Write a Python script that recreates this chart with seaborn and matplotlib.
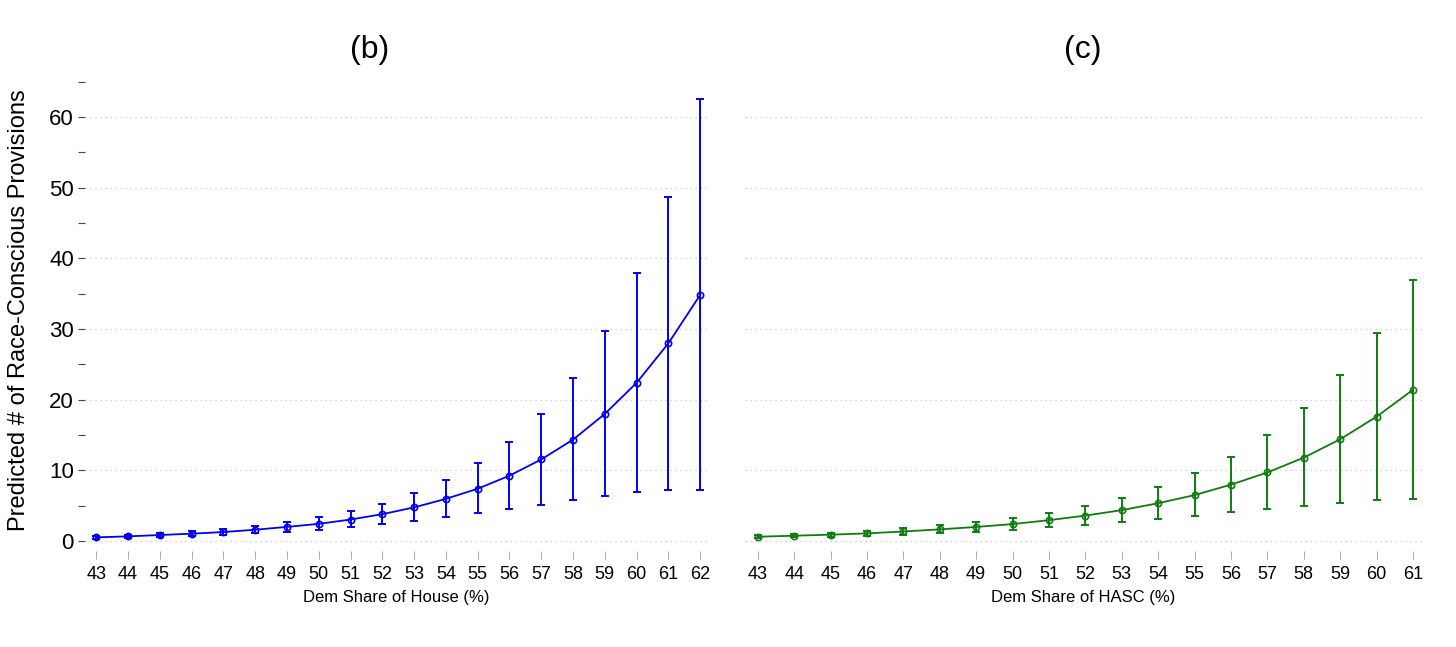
import seaborn as sns
import matplotlib
matplotlib.use("Agg")
import matplotlib.pyplot as plt
import pandas as pd

# panel (b): Dem share of House
house_share = list(range(43, 63))
house_pred = [0.52, 0.66, 0.85, 1.04, 1.27, 1.6, 2.0, 2.43, 3.04, 3.8,
              4.76, 5.97, 7.4, 9.25, 11.55, 14.35, 18.0, 22.4, 28.0, 34.85]
house_lo = [0.3, 0.45, 0.6, 0.72, 0.85, 1.1, 1.3, 1.6, 1.95, 2.38,
            2.85, 3.37, 3.9, 4.5, 5.15, 5.8, 6.4, 6.9, 7.2, 7.2]
house_hi = [0.75, 0.9, 1.1, 1.37, 1.75, 2.1, 2.7, 3.35, 4.2, 5.25,
            6.75, 8.6, 11.0, 14.05, 18.0, 23.1, 29.7, 38.0, 48.75, 62.6]

# panel (c): Dem share of HASC
hasc_share = list(range(43, 62))
hasc_pred = [0.61, 0.75, 0.9, 1.08, 1.35, 1.65, 1.99, 2.4, 2.95, 3.6,
             4.37, 5.35, 6.5, 7.98, 9.7, 11.8, 14.4, 17.6, 21.4]
hasc_lo = [0.4, 0.52, 0.63, 0.72, 0.9, 1.13, 1.27, 1.56, 1.95, 2.33,
           2.7, 3.17, 3.6, 4.06, 4.5, 4.95, 5.4, 5.75, 6.0]
hasc_hi = [0.82, 0.98, 1.2, 1.46, 1.84, 2.2, 2.74, 3.3, 3.98, 4.9,
           6.08, 7.6, 9.6, 11.9, 15.0, 18.8, 23.5, 29.5, 36.9]

sns.set_style("white")
plt.rcParams['font.family'] = ['Liberation Sans', 'DejaVu Sans']
plt.rcParams['text.color'] = 'black'
plt.rcParams['axes.labelcolor'] = 'black'
plt.rcParams['xtick.labelcolor'] = 'black'
plt.rcParams['ytick.labelcolor'] = 'black'

fig = plt.figure(figsize=(14.56, 6.47), dpi=100)
ax1 = fig.add_axes([0.0584, 0.1485, 0.428, 0.7274])
ax2 = fig.add_axes([0.5117, 0.1485, 0.465, 0.7274])


def draw_panel(ax, xs, pred, lo, hi, color, xlabel):
    df = pd.DataFrame({"x": xs, "y": pred})
    yerr = [[p - l for p, l in zip(pred, lo)], [h - p for p, h in zip(pred, hi)]]
    ax.errorbar(xs, pred, yerr=yerr, fmt='none', ecolor=color,
                elinewidth=1.4, capsize=2.6, capthick=1.4, zorder=2)
    sns.lineplot(data=df, x="x", y="y", ax=ax, color=color, linewidth=1.3,
                 marker='o', markersize=4.5, markerfacecolor='none',
                 markeredgecolor=color, markeredgewidth=1.2, zorder=3)
    ax.set_ylim(-1.4, 65.2)
    ax.set_xlim(xs[0] - 0.35, xs[-1] + 0.25)
    ax.set_xticks(xs)
    ax.set_xticklabels([str(v) for v in xs], fontsize=13)
    ax.set_yticks(range(0, 70, 10))
    ax.set_yticks(range(5, 70, 10), minor=True)
    for v in range(0, 70, 10):
        ax.axhline(v, color='#c8c8c8', linestyle=(0, (1, 3)), linewidth=0.9, zorder=1)
    for s in ax.spines.values():
        s.set_visible(False)
    ax.tick_params(axis='x', which='major', bottom=True, length=6, width=0.7,
                   color='#aaaaaa', direction='out', pad=5)
    ax.set_xlabel(xlabel, fontsize=12, labelpad=5)
    ax.set_ylabel('')


draw_panel(ax1, house_share, house_pred, house_lo, house_hi, '#0000f0', 'Dem Share of House (%)')
draw_panel(ax2, hasc_share, hasc_pred, hasc_lo, hasc_hi, '#107c10', 'Dem Share of HASC (%)')

ax1.tick_params(axis='y', which='major', left=True, length=5, width=0.8, color='#444444',
                labelsize=16, pad=3, direction='out')
ax1.tick_params(axis='y', which='minor', left=True, length=5, width=0.8, color='#444444',
                direction='out')

ax2.tick_params(axis='y', which='both', left=False, labelleft=False)

fig.text(19 / 1456, 1 - 310 / 647, 'Predicted # of Race-Conscious Provisions',
         fontsize=17, rotation=90, ha='center', va='center')
fig.text(370 / 1456, 1 - 50 / 647, '(b)', fontsize=23, ha='center', va='center')
fig.text(1083 / 1456, 1 - 50 / 647, '(c)', fontsize=23, ha='center', va='center')

plt.savefig('out.png', dpi=100)
